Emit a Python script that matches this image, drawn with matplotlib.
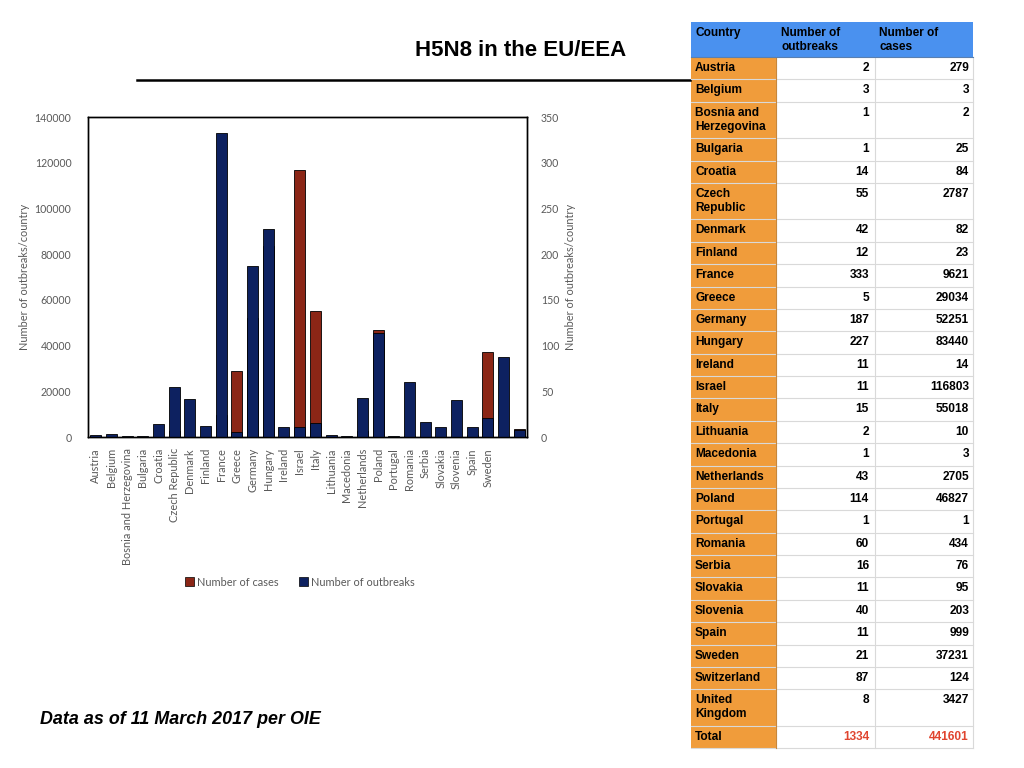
import numpy as np
import matplotlib
matplotlib.use("Agg")
import matplotlib.pyplot as plt
from matplotlib.patches import Rectangle, Patch

# data (as in the reference table)
countries = ["Austria", "Belgium", "Bosnia and Herzegovina", "Bulgaria", "Croatia",
             "Czech Republic", "Denmark", "Finland", "France", "Greece", "Germany",
             "Hungary", "Ireland", "Israel", "Italy", "Lithuania", "Macedonia",
             "Netherlands", "Poland", "Portugal", "Romania", "Serbia", "Slovakia",
             "Slovenia", "Spain", "Sweden", "Switzerland", "United Kingdom"]
outbreaks = [2, 3, 1, 1, 14, 55, 42, 12, 333, 5, 187, 227, 11, 11, 15, 2, 1,
             43, 114, 1, 60, 16, 11, 40, 11, 21, 87, 8]
cases = [279, 3, 2, 25, 84, 2787, 82, 23, 9621, 29034, 52251, 83440, 14, 116803,
         55018, 10, 3, 2705, 46827, 1, 434, 76, 95, 203, 999, 37231, 124, 3427]
# the chart in the reference only labels up to Sweden
chart_labels = countries[:26] + ["", ""]
table_names = {"Bosnia and Herzegovina": "Bosnia and\nHerzegovina",
               "Czech Republic": "Czech\nRepublic",
               "United Kingdom": "United\nKingdom"}
total_outbreaks = 1334
total_cases = 441601

RED = "#8b2616"
NAVY = "#0d2160"
GRAY = "#595959"
CHART_FONT = ["Lato", "DejaVu Sans"]
FS = 7.9

fig = plt.figure(figsize=(10.24, 7.68), dpi=100)

# ---- bar chart ----
ax = fig.add_axes([88 / 1024, 1 - 437 / 768, 439 / 1024, 320 / 768])
ax2 = ax.twinx()
x = np.arange(len(countries))
ax.bar(x, cases, width=0.7, color=RED, edgecolor="black", linewidth=0.6)
ax2.bar(x, outbreaks, width=0.7, color=NAVY, edgecolor="black", linewidth=0.6)

ax.set_xlim(-0.5, len(countries) - 0.5)
ax.set_ylim(0, 140000)
ax2.set_ylim(0, 350)
ax.set_yticks(np.arange(0, 140001, 20000))
ax2.set_yticks(np.arange(0, 351, 50))
ax.set_xticks(x)
ax.set_xticklabels(chart_labels, rotation=90, fontsize=FS, color=GRAY, family=CHART_FONT)
for a in (ax, ax2):
    a.tick_params(length=0, labelsize=FS, labelcolor=GRAY)
    for s in a.spines.values():
        s.set_color("black")
        s.set_linewidth(1)
for lab in ax.get_yticklabels() + ax2.get_yticklabels():
    lab.set_family(CHART_FONT)
    lab.set_fontsize(7.6)
ax.tick_params(axis="y", pad=12)
ax2.tick_params(axis="y", pad=10)
ax.tick_params(axis="x", pad=8)
ax.set_ylabel("Number of outbreaks/country", fontsize=FS, color=GRAY, family=CHART_FONT, labelpad=3)
ax2.set_ylabel("Number of outbreaks/country", fontsize=FS, color=GRAY, family=CHART_FONT, labelpad=4)

handles = [Patch(facecolor=RED, edgecolor="black", linewidth=0.5, label="Number of cases"),
           Patch(facecolor=NAVY, edgecolor="black", linewidth=0.5, label="Number of outbreaks")]
fig.legend(handles=handles, loc="center", bbox_to_anchor=(300 / 1024, 1 - 582 / 768), ncol=2,
           frameon=False, prop={"family": CHART_FONT, "size": FS}, labelcolor=GRAY,
           handlelength=0.8, handleheight=0.8, handletextpad=0.3, columnspacing=1.8)

# ---- title, rule and footer ----
over = fig.add_axes([0, 0, 1, 1], zorder=5)
over.set_xlim(0, 1024)
over.set_ylim(768, 0)
over.axis("off")
over.text(521, 50, "H5N8 in the EU/EEA", ha="center", va="center", fontsize=16,
          fontweight="bold", family="Liberation Sans")
over.plot([137, 690], [80, 80], color="black", linewidth=1.8)
over.text(40, 720, "Data as of 11 March 2017 per OIE", ha="left", va="center", fontsize=12.9,
          fontweight="bold", fontstyle="italic", family="Liberation Sans")

# ---- table ----
col_x = [691, 776, 875, 973]
HEAD_BLUE = "#4a91ef"
ORANGE = "#f09c3b"
GRID = "#d9d9d9"
tfont = dict(fontsize=8.6, fontweight="bold", family="Liberation Sans", va="top")

top = 22
head_h = 35
over.add_patch(Rectangle((col_x[0], top), col_x[3] - col_x[0], head_h, facecolor=HEAD_BLUE,
                         edgecolor="none"))
over.text(col_x[0] + 4, top + 5, "Country", **tfont)
over.text(col_x[1] + 5, top + 5, "Number of\noutbreaks", linespacing=1.2, **tfont)
over.text(col_x[2] + 4, top + 5, "Number of\ncases", linespacing=1.2, **tfont)

rows = [(table_names.get(c, c), str(o), str(v), "black") for c, o, v in zip(countries, outbreaks, cases)]
rows.append(("Total", str(total_outbreaks), str(total_cases), "#e0452f"))

y = top + head_h
for name, o, v, vcol in rows:
    h = 36.5 if "\n" in name else 22.37
    over.add_patch(Rectangle((col_x[0], y), col_x[1] - col_x[0], h, facecolor=ORANGE,
                             edgecolor="none"))
    over.add_patch(Rectangle((col_x[1], y), col_x[3] - col_x[1], h, facecolor="white",
                             edgecolor="none"))
    over.plot([col_x[0], col_x[3]], [y + h, y + h], color=GRID, linewidth=0.8)
    over.text(col_x[0] + 4, y + 5, name, linespacing=1.2, **tfont)
    over.text(col_x[2] - 6, y + 5, o, ha="right", color=vcol, **tfont)
    over.text(col_x[3] - 4, y + 5, v, ha="right", color=vcol, **tfont)
    y += h

for cx in col_x[1:]:
    over.plot([cx, cx], [top + head_h, y], color=GRID, linewidth=0.8)
over.plot([col_x[1], col_x[1]], [top + head_h, y], color="#c8873a", linewidth=0.8)
over.plot([col_x[0], col_x[3]], [top + head_h, top + head_h], color="#5a7fb0", linewidth=0.8)

fig.savefig("out.png", dpi=100)
